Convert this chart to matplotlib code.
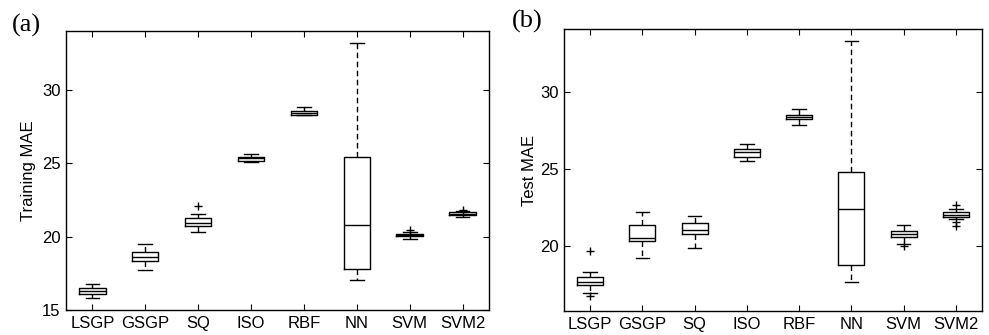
import matplotlib
matplotlib.use("Agg")
import matplotlib.pyplot as plt

cats = ['LSGP', 'GSGP', 'SQ', 'ISO', 'RBF', 'NN', 'SVM', 'SVM2']

# Training MAE (panel a)
train_whislo = [15.84, 17.75, 20.32, 25.11, 28.25, 17.05, 19.86, 21.34]
train_q1     = [16.09, 18.36, 20.73, 25.14, 28.30, 17.80, 20.02, 21.48]
train_med    = [16.27, 18.64, 20.95, 25.32, 28.43, 20.77, 20.09, 21.55]
train_q3     = [16.48, 18.93, 21.25, 25.45, 28.57, 25.45, 20.16, 21.64]
train_whishi = [16.80, 19.52, 21.57, 25.64, 28.84, 33.16, 20.34, 21.75]
train_fliers = [[], [], [22.07], [], [], [], [20.45], [21.84]]

# Test MAE (panel b)
test_whislo = [16.97, 19.22, 19.87, 25.52, 27.84, 17.71, 20.17, 21.80]
test_q1     = [17.49, 20.32, 20.82, 25.82, 28.23, 18.79, 20.63, 21.93]
test_med    = [17.68, 20.52, 21.04, 26.10, 28.38, 22.45, 20.80, 22.06]
test_q3     = [18.01, 21.41, 21.49, 26.34, 28.51, 24.81, 20.97, 22.23]
test_whishi = [18.31, 22.25, 21.99, 26.62, 28.94, 33.31, 21.41, 22.45]
test_fliers = [[19.72, 16.75], [], [], [], [], [], [20.00], [22.68, 21.56, 21.30]]

plt.rcParams['font.family'] = ['Liberation Sans', 'DejaVu Sans']

fig = plt.figure(figsize=(9.89, 3.35), dpi=100)
axA = fig.add_axes([0.0667, 0.0746, 0.4277, 0.8329])
axB = fig.add_axes([0.5703, 0.0716, 0.4226, 0.8418])


def make_stats(lo, q1, med, q3, hi, fl):
    out = []
    for i in range(len(cats)):
        out.append(dict(whislo=lo[i], q1=q1[i], med=med[i], q3=q3[i],
                        whishi=hi[i], fliers=fl[i], label=cats[i]))
    return out


def draw(ax, stats, ylim, yticks, ylabel, labelpad):
    ax.bxp(stats, positions=range(1, len(cats) + 1), widths=0.5,
           showfliers=True, capwidths=0.26,
           boxprops=dict(color='black', linewidth=1.0),
           medianprops=dict(color='black', linewidth=1.0),
           whiskerprops=dict(color='black', linewidth=1.0, linestyle=(0, (4, 2.5))),
           capprops=dict(color='black', linewidth=1.0),
           flierprops=dict(marker='+', markeredgecolor='black',
                           markerfacecolor='black', markersize=6, linestyle='none'))
    ax.set_xlim(0.5, 8.5)
    ax.set_ylim(*ylim)
    ax.set_yticks(yticks)
    ax.set_xticks(range(1, len(cats) + 1))
    ax.set_xticklabels(cats, fontsize=12)
    ax.tick_params(axis='y', labelsize=12)
    ax.tick_params(direction='in', length=4, width=0.8, top=True, right=True, pad=4)
    ax.set_ylabel(ylabel, fontsize=12, labelpad=labelpad)
    for s in ax.spines.values():
        s.set_linewidth(1.0)


draw(axA, make_stats(train_whislo, train_q1, train_med, train_q3, train_whishi, train_fliers),
     (15, 34.0), [15, 20, 25, 30], 'Training MAE', 4)
draw(axB, make_stats(test_whislo, test_q1, test_med, test_q3, test_whishi, test_fliers),
     (15.8, 34.1), [20, 25, 30], 'Test MAE', 2)

fig.text(12 / 989, 1 - 25 / 335, '(a)', fontsize=19, family='Liberation Serif',
         ha='left', va='center')
fig.text(512 / 989, 1 - 21 / 335, '(b)', fontsize=19, family='Liberation Serif',
         ha='left', va='center')

fig.savefig('out.png', dpi=100)
